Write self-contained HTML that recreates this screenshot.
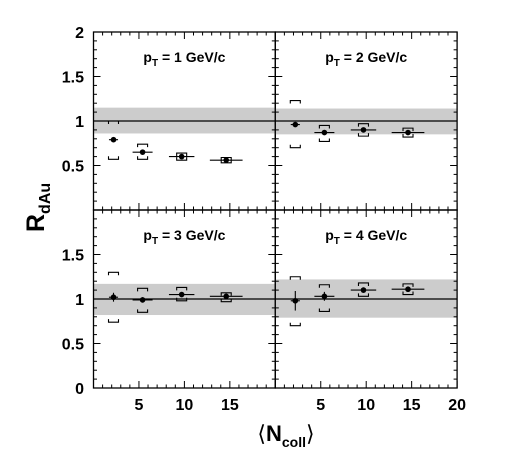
<!DOCTYPE html>
<html><head><meta charset="utf-8"><style>
html,body{margin:0;padding:0;background:#fff;width:506px;height:455px;overflow:hidden}
svg text{font-family:"Liberation Sans",Arial,sans-serif;font-weight:bold;fill:#000}
</style></head><body>
<svg id="c" width="506" height="455" viewBox="0 0 506 455"></svg>
<script>
const ncoll=[2.2,5.4,9.7,14.6];
const ncollErr=[0.5,1.1,1.4,1.8];
const panelTitles=["1","2","3","4"];
const r1=[0.79,0.65,0.60,0.56], sysHi1=[1.0,0.74,0.64,0.59], sysLo1=[0.57,0.57,0.56,0.53];
const r2=[0.96,0.87,0.90,0.87], sysHi2=[1.23,0.95,0.97,0.92], sysLo2=[0.70,0.77,0.83,0.82];
const r3=[1.02,0.99,1.05,1.03], sysHi3=[1.30,1.12,1.13,1.07], sysLo3=[0.74,0.85,0.98,0.97];
const r4=[0.98,1.03,1.10,1.11], sysHi4=[1.25,1.16,1.18,1.17], sysLo4=[0.70,0.86,1.03,1.05];
const statErr=[[0.02,0.02,0.02,0.02],[0.02,0.02,0.02,0.02],[0.05,0.03,0.02,0.02],[0.11,0.05,0.03,0.03]];
const bandLo=[0.86,0.85,0.82,0.79], bandHi=[1.15,1.14,1.17,1.22];
const yTicks=["0","0.5","1","1.5","2"];
const xTicks=["5","10","15","20"];
const rs=[r1,r2,r3,r4], his=[sysHi1,sysHi2,sysHi3,sysHi4], los=[sysLo1,sysLo2,sysLo3,sysLo4];

const svg=document.getElementById('c'),NS='http://www.w3.org/2000/svg';
const X0=[93.5,275.3], Y0=[210,388], PW=181.8, PH=178;
function el(t,a,p){const e=document.createElementNS(NS,t);for(const k in a)e.setAttribute(k,a[k]);(p||svg).appendChild(e);return e;}
function line(g,x1,y1,x2,y2,w,c){return el('line',{x1,y1,x2,y2,stroke:c||'#000','stroke-width':w||1},g);}
for(let p=0;p<4;p++){
  const col=p%2,row=Math.floor(p/2);
  const x0=X0[col], y0=Y0[row];
  const sx=v=>x0+v/20*PW, sy=v=>y0-v/2*PH;
  const g=el('g',{});
  
  
  const b=el('rect',{x:x0,y:sy(bandHi[p]),width:PW,height:sy(bandLo[p])-sy(bandHi[p]),fill:'#cccccc'},g);
  
  
  line(g,x0,sy(1),x0+PW,sy(1),1.2);
  for(let i=0;i<=20;i++){const v=i/10,len=(i%5==0)?7:3.5;
    line(g,x0,sy(v),x0+len,sy(v),1);line(g,x0+PW,sy(v),x0+PW-len,sy(v),1);}
  for(let i=0;i<=20;i++){const len=(i%5==0)?7:3.5;
    line(g,sx(i),y0,sx(i),y0-len,1);line(g,sx(i),y0-PH,sx(i),y0-PH+len,1);}
  el('rect',{x:x0,y:y0-PH,width:PW,height:PH,fill:'none',stroke:'#000','stroke-width':1.3},g);
  const t=el('text',{x:x0+PW/2,y:y0-PH+30,'text-anchor':'middle','font-size':14},g);
  t.innerHTML='p<tspan font-size="10" dy="4">T</tspan><tspan dy="-4"> = '+panelTitles[p]+' GeV/c</tspan>';
  
  
  for(let i=0;i<ncoll.length;i++){
    const cx=sx(ncoll[i]),cy=sy(rs[p][i]),w=5,hi=sy(his[p][i]),lo=sy(los[p][i]);
    const pg=el('g',{},g);
    
    
    el('path',{d:`M${cx-w},${hi+3}V${hi}H${cx+w}V${hi+3}M${cx-w},${lo-3}V${lo}H${cx+w}V${lo-3}`,fill:'none',stroke:'#000','stroke-width':1.1},pg);
    line(pg,sx(ncoll[i]-ncollErr[i]),cy,sx(ncoll[i]+ncollErr[i]),cy,1.1);
    line(pg,cx,sy(rs[p][i]+statErr[p][i]),cx,sy(rs[p][i]-statErr[p][i]),1.1);
    el('circle',{cx,cy,r:2.8,fill:'#000'},pg);
  }
}
for(let row=0;row<2;row++)for(let i=0;i<yTicks.length;i++){
  if(row==1&&i==4)continue;
  if(row==0&&i==0)continue;
  const t=el('text',{x:84,y:Y0[row]-i*0.5/2*PH+6,'text-anchor':'end','font-size':16});
  t.textContent=yTicks[i];
  
  
}
for(let col=0;col<2;col++)for(let i=0;i<xTicks.length;i++){
  if(col==0&&i==3)continue;
  const t=el('text',{x:X0[col]+(i+1)*5/20*PW,y:410,'text-anchor':'middle','font-size':16});
  t.textContent=xTicks[i];
  
  
}
const yl=el('text',{x:0,y:0,'font-size':25,transform:'translate(44,232) rotate(-90)'});
yl.innerHTML='R<tspan font-size="16" dy="6">dAu</tspan>';


const xl=el('text',{x:286,y:441,'text-anchor':'middle','font-size':22});
xl.innerHTML='<tspan font-weight="normal">⟨</tspan>N<tspan font-size="14" dy="6">coll</tspan><tspan dy="-6" font-weight="normal">⟩</tspan>';


</script>
</body></html>
